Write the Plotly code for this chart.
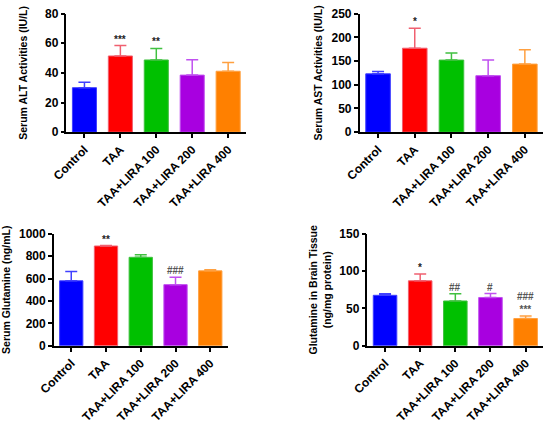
import plotly.graph_objects as go

# Data
groups = ['Control', 'TAA', 'TAA+LIRA 100', 'TAA+LIRA 200', 'TAA+LIRA 400']

alt_mean = [30.0, 51.4, 48.7, 38.5, 41.1]
alt_err = [3.6, 7.0, 7.8, 10.4, 5.9]
alt_sig = ['', '***', '**', '', '']

ast_mean = [123, 177, 152, 119, 143.5]
ast_err = [5, 42, 15, 33, 30]
ast_sig = ['', '*', '', '', '']

gln_serum_mean = [580, 891, 790, 546, 669]
gln_serum_err = [84, 4, 22, 65, 9]
gln_serum_sig = ['', '**', '', '###', '']

gln_brain_mean = [67.6, 87.0, 60.0, 64.7, 36.5]
gln_brain_err = [2.1, 9.0, 9.7, 5.3, 3.5]
gln_brain_sig = ['', '*', '##', '#', '###<br>***']

bar_colors = ['#0000FF', '#FF0000', '#00C000', '#A800E0', '#FF8000']
err_colors = ['#4040FF', '#F06070', '#40C040', '#C050F0', '#FFA040']

W, H = 550, 424


def xdom(left, right):
    return [left / W, right / W]


def ydom(bottom, top):
    # bottom/top given as pixel rows from the top of the picture
    return [(H - bottom) / H, (H - top) / H]


panels = [
    dict(mean=alt_mean, err=alt_err, sig=alt_sig, ymax=80, dtick=20,
         title='Serum ALT Activities (IU/L)', standoff=15,
         xdom=xdom(52, 237), ydom=ydom(133, 7)),
    dict(mean=ast_mean, err=ast_err, sig=ast_sig, ymax=250, dtick=50,
         title='Serum AST Activities (IU/L)', standoff=7,
         xdom=xdom(354, 543), ydom=ydom(133, 7)),
    dict(mean=gln_serum_mean, err=gln_serum_err, sig=gln_serum_sig, ymax=1000, dtick=200,
         title='Serum Glutamine (ng/mL)', standoff=6,
         xdom=xdom(39, 218), ydom=ydom(360, 241)),
    dict(mean=gln_brain_mean, err=gln_brain_err, sig=gln_brain_sig, ymax=150, dtick=50,
         title='Glutamine in Brain Tissue<br>(ng/mg protein)', standoff=6,
         xdom=xdom(362, 543), ydom=ydom(360, 241)),
]

FONT = 'Liberation Sans, Arial, sans-serif'

fig = go.Figure()
layout = {}
annotations = []

for i, p in enumerate(panels, start=1):
    xa = 'x' if i == 1 else f'x{i}'
    ya = 'y' if i == 1 else f'y{i}'
    for j, g in enumerate(groups):
        fig.add_trace(go.Bar(
            x=[g], y=[p['mean'][j]], xaxis=xa, yaxis=ya, width=0.67,
            marker=dict(color=bar_colors[j], line=dict(color=err_colors[j], width=1)),
            error_y=dict(type='data', symmetric=False, array=[p['err'][j]], arrayminus=[0],
                         color=err_colors[j], thickness=1.5, width=6),
            showlegend=False, hoverinfo='skip'))
        if p['sig'][j]:
            hashes = p['sig'][j].startswith('#')
            annotations.append(dict(
                x=g, y=p['mean'][j] + p['err'][j], xref=xa, yref=ya,
                text=p['sig'][j], showarrow=False, yanchor='bottom', yshift=-1,
                font=dict(family=FONT, size=10, color='#555555' if hashes else '#222222',
                          weight='bold')))
    axis_common = dict(showline=True, linecolor='black', linewidth=1.5,
                       ticks='outside', tickcolor='black', tickwidth=1.5, ticklen=4,
                       showgrid=False, zeroline=False,
                       tickfont=dict(family=FONT, size=12, color='black', weight='bold'))
    layout['xaxis' if i == 1 else f'xaxis{i}'] = dict(
        axis_common, domain=p['xdom'], anchor=ya, type='category',
        range=[-0.5, 4.5], tickangle=-45, categoryorder='array', categoryarray=groups)
    layout['yaxis' if i == 1 else f'yaxis{i}'] = dict(
        axis_common, domain=p['ydom'], anchor=xa, range=[0, p['ymax']],
        dtick=p['dtick'],
        title=dict(text=p['title'], standoff=p['standoff'],
                   font=dict(family=FONT, size=10.5, color='black', weight='bold')))

fig.update_layout(**layout)
fig.update_layout(
    width=W, height=H, barmode='overlay',
    margin=dict(l=0, r=0, t=0, b=0),
    paper_bgcolor='white', plot_bgcolor='white',
    annotations=annotations)

# drop the default 8px body margin so the figure sits at the window corner
fig.write_html('out.html', config={'displayModeBar': False},
               post_script="document.body.style.margin='0';")
